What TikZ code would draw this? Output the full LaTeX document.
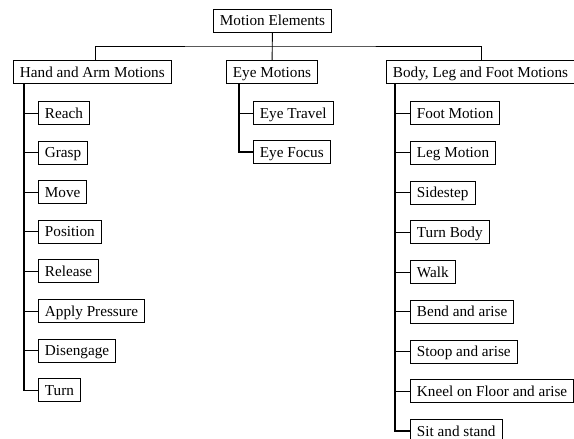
\documentclass[tikz,border=0pt]{standalone}
\usepackage{fontspec}
\setmainfont{Liberation Serif}

\begin{document}
\begin{tikzpicture}[x=1pt, y=-1pt, line width=0.9pt,
		elem/.style={draw, anchor=west, inner xsep=6.5pt, inner ysep=0pt, minimum height=23pt, text height=12pt, text depth=2pt, font=\fontsize{15.2}{18}\selectfont},
		spine/.style={line width=1.2pt}]
		\useasboundingbox (0, 0) rectangle (574, 439);
		\clip (0, 0) rectangle (574, 439);
		
		\node[elem, anchor=center] (top) at (272.5, 21) {Motion Elements};
		\node[elem] (hand) at (13, 72) {Hand and Arm Motions};
		\node[elem] (eye) at (226, 72) {Eye Motions};
		\node[elem] (body) at (386, 72) {Body, Leg and Foot Motions};
		
		\coordinate (bar) at (272.5, 46);
		\draw ([xshift=3.5pt]hand.north) |- (bar) -| ([xshift=1pt]body.north);
		\draw (top) -- (eye);
		
		% hand and arm
		\foreach \t [count=\i] in {Reach, Grasp, Move, Position, Release, Apply Pressure, Disengage, Turn}
			\node[elem] (h\i) at (38, {113 + (\i - 1) * 39.6}) {\t};
		\draw[spine] ([xshift=11pt]hand.south west) |- (h8.west);
		\foreach \i in {1, ..., 7}
			\draw (h\i.west) -- ++(-14, 0);
		
		% eye
		\node[elem] (e1) at (253, 113) {Eye Travel};
		\node[elem] (e2) at (253, 152) {Eye Focus};
		\draw[spine] ([xshift=13pt]eye.south west) |- (e2.west);
		\draw (e1.west) -- ++(-14, 0);
		
		% body, leg and foot
		\foreach \t [count=\i] in {Foot Motion, Leg Motion, Sidestep, Turn Body, Walk, Bend and arise, Stoop and arise, Kneel on Floor and arise, Sit and stand}
			\node[elem] (b\i) at (410, {113 + (\i - 1) * 39.75}) {\t};
		\draw[spine] ([xshift=9pt]body.south west) |- (b9.west);
		\foreach \i in {1, ..., 8}
			\draw (b\i.west) -- ++(-15, 0);
	\end{tikzpicture}
\end{document}
